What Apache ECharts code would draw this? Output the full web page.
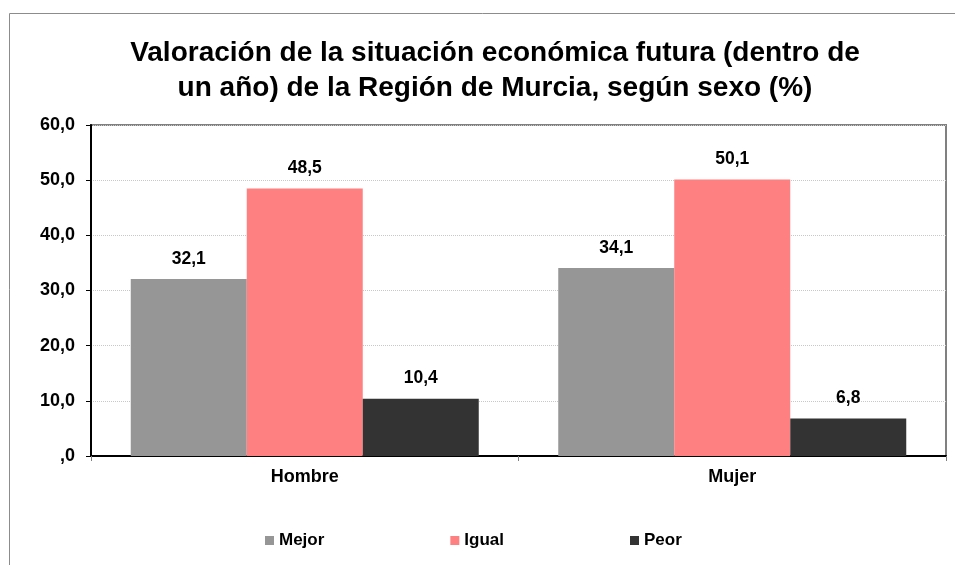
<!DOCTYPE html>
<html>
<head>
<meta charset="utf-8">
<script src="https://cdn.jsdelivr.net/npm/echarts@6/dist/echarts.min.js"></script>
<style>
  html, body { margin: 0; padding: 0; background: #fff; }
  #chart { width: 955px; height: 565px; }
</style>
</head>
<body>
<div id="chart"></div>
<script>
const categories = ['Hombre', 'Mujer']
const mejor = [32.1, 34.1]
const igual = [48.5, 50.1]
const peor = [10.4, 6.8]
const seriesNames = ['Mejor', 'Igual', 'Peor']
const colors = ['#969696', '#FF8080', '#333333']

const font = 'Liberation Sans, Arial, sans-serif'
const fmt = v => {
    const s = v.toFixed(1).replace('.', ',')
    return s.startsWith('0,') ? s.slice(1) : s
}

const chart = echarts.init(document.getElementById('chart'))

const makeSeries = (name, data, color) => ({
    name,
    type: 'bar',
    data,
    barWidth: 116,
    barGap: '0%',
    itemStyle: { color },
    label: {
        show: true,
        position: 'top',
        distance: 11,
        color: '#000',
        fontFamily: font,
        fontWeight: 'bold',
        fontSize: 17.5,
        formatter: p => fmt(p.value)
    }
})

chart.setOption({
    animation: false,
    title: {
        text: 'Valoración de la situación económica futura (dentro de\nun año) de la Región de Murcia, según sexo (%)',
        left: 490,
        textAlign: 'center',
        top: 31,
        textStyle: {
            fontFamily: font,
            fontWeight: 'bold',
            fontSize: 28,
            lineHeight: 35,
            color: '#000'
        }
    },
    graphic: [
        {
            type: 'rect',
            shape: { x: 9.5, y: 13.5, width: 960, height: 560 },
            style: { fill: 'none', stroke: '#8c8c8c', lineWidth: 1 },
            silent: true
        }
    ],
    legend: {
        left: 260,
        top: 527,
        itemWidth: 9,
        itemHeight: 9,
        itemGap: 126,
        icon: 'rect',
        textStyle: { fontFamily: font, fontWeight: 'bold', fontSize: 17, color: '#000' },
        data: seriesNames
    },
    grid: {
        left: 91,
        right: 9,
        top: 125,
        bottom: 109,
        show: true,
        borderColor: '#808080',
        borderWidth: 2,
        containLabel: false
    },
    xAxis: {
        type: 'category',
        data: categories,
        axisLine: { lineStyle: { color: '#000', width: 2 } },
        axisTick: { show: true, length: 5, lineStyle: { color: '#808080' } },
        axisLabel: {
            margin: 12,
            fontFamily: font,
            fontWeight: 'bold',
            fontSize: 18,
            color: '#000'
        }
    },
    yAxis: {
        type: 'value',
        min: 0,
        max: 60,
        interval: 10,
        axisLine: { show: true, lineStyle: { color: '#000', width: 2 } },
        axisTick: { show: true, length: 5, lineStyle: { color: '#000' } },
        splitLine: { lineStyle: { color: '#c8c8c8', type: 'dotted', width: 1 } },
        axisLabel: {
            margin: 16,
            fontFamily: font,
            fontWeight: 'bold',
            fontSize: 18,
            color: '#000',
            formatter: v => fmt(v)
        }
    },
    series: [
        makeSeries(seriesNames[0], mejor, colors[0]),
        makeSeries(seriesNames[1], igual, colors[1]),
        makeSeries(seriesNames[2], peor, colors[2])
    ]
})
</script>
</body>
</html>
